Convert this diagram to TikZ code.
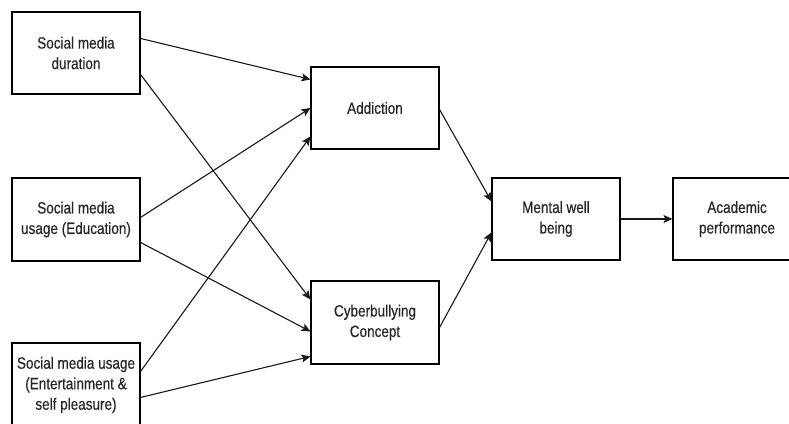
\documentclass[tikz,border=0pt]{standalone}
\usepackage{fontspec}
\setmainfont{Liberation Sans}[FakeStretch=0.83,FakeBold=0.4]
\usetikzlibrary{arrows.meta,calc}
\tikzset{
  box/.style={draw=black, line width=1.1pt, fill=white, rectangle, minimum width=128pt, inner sep=0pt, align=center, font=\fontsize{16.3}{20.5}\selectfont, text=black!85},
  conn/.style={draw=black!90, line width=1.1pt, -{Stealth[length=9pt,width=8pt,inset=2pt]}}
}
\begin{document}
\begin{tikzpicture}[x=1pt,y=-1pt]
\useasboundingbox (0,0) rectangle (789,423);
\clip (0,0) rectangle (789,423);
\fill[white] (0,0) rectangle (789,423);
\node[box, minimum height=82pt] (dur) at (76,53) {Social media\\duration};
\node[box, minimum height=83pt] (edu) at (76,219.5) {Social media\\usage (Education)};
\node[box, minimum height=84pt] (ent) at (76,385) {Social media usage\\(Entertainment \&\\self pleasure)};
\node[box, minimum height=82pt] (add) at (375,108) {Addiction};
\node[box, minimum height=83pt] (cyb) at (375,322.5) {Cyberbullying\\Concept};
\node[box, minimum height=82pt] (men) at (556,219) {Mental well\\being};
\node[box, minimum height=82pt] (aca) at (737,219) {Academic\\performance};
\draw[conn] ($(dur.north east)+(0,27)$) -- ($(add.north west)+(0,13)$);
\draw[conn] ($(dur.north east)+(0,63)$) -- ($(cyb.north west)+(0,19)$);
\draw[conn] ($(edu.north east)+(0,40)$) -- (add.west);
\draw[conn] ($(edu.north east)+(0,65)$) -- ($(cyb.north west)+(0,51)$);
\draw[conn] ($(ent.north east)+(0,29)$) -- ($(add.north west)+(0,70)$);
\draw[conn] ($(ent.north east)+(0,55)$) -- ($(cyb.north west)+(0,76)$);
\draw[conn] ($(add.north east)+(0,43)$) -- ($(men.north west)+(0,24)$);
\draw[conn] ($(cyb.north east)+(0,47)$) -- ($(men.north west)+(0,55)$);
\draw[conn] (men.east) -- (aca.west);
\end{tikzpicture}
\end{document}
